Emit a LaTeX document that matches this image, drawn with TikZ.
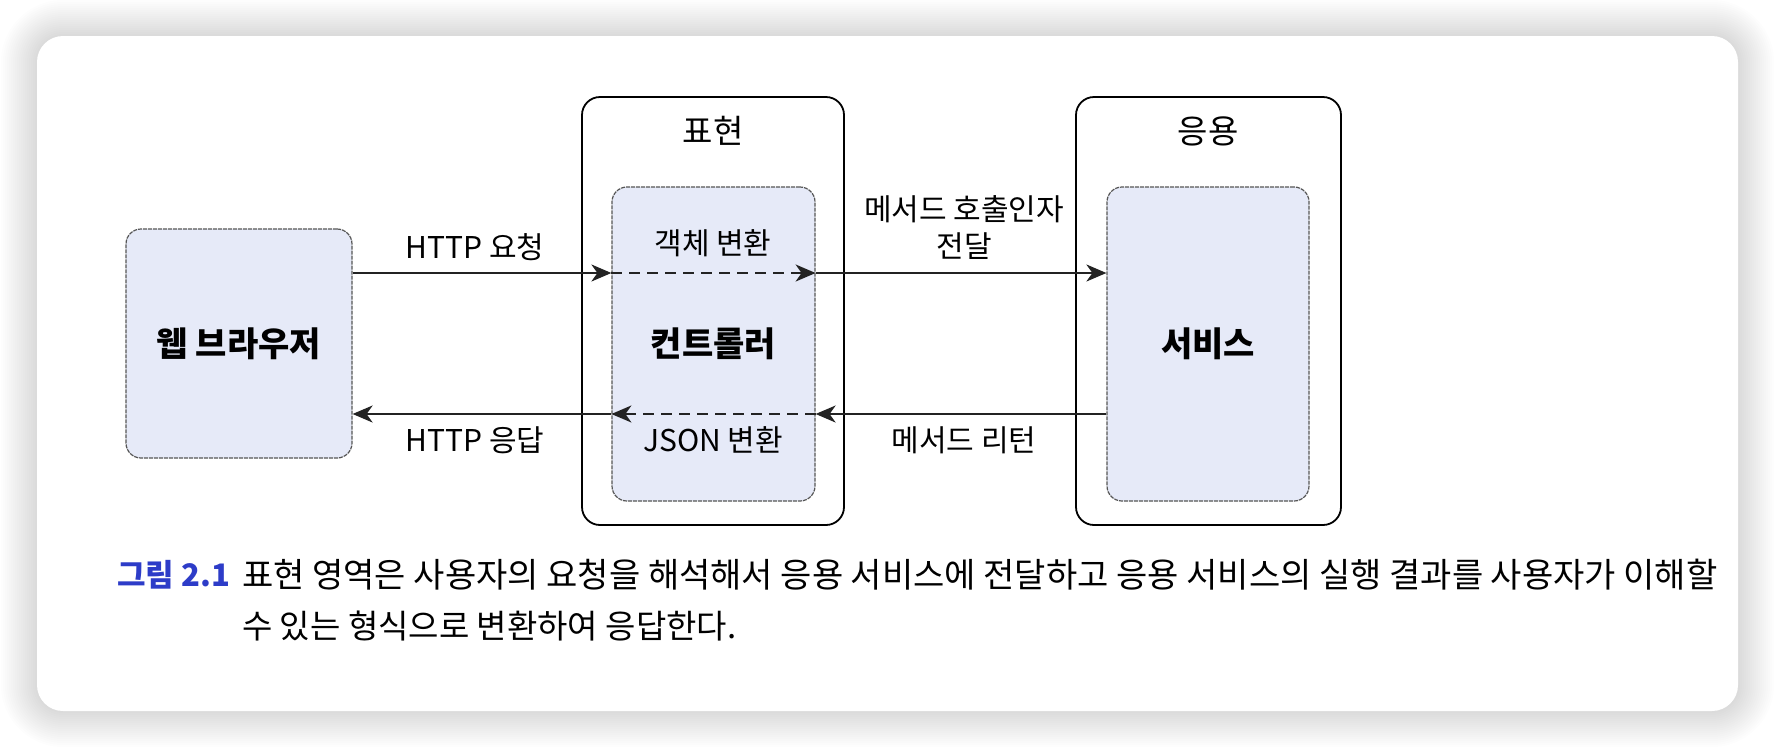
\documentclass[tikz,border=0pt]{standalone}
\usepackage{fontspec}
\setmainfont{Noto Sans CJK KR}
\usetikzlibrary{arrows.meta}
\definecolor{boxfill}{RGB}{230,234,248}
\definecolor{boxline}{RGB}{85,85,85}
\definecolor{linec}{RGB}{35,35,35}
\definecolor{capblue}{RGB}{45,60,200}
\begin{document}
\begin{tikzpicture}[x=1pt,y=-1pt,
  lbl/.style={font=\fontsize{30}{34}\selectfont, text=black, inner sep=0pt},
  ttl/.style={font=\fontsize{33}{36}\selectfont, text=black, inner sep=0pt},
  inbox/.style={draw=boxline, fill=boxfill, line width=1.2pt, dash pattern=on 4pt off 1pt,
    rounded corners=15pt, font=\fontsize{34}{38}\selectfont\bfseries, inner sep=0pt},
  layer/.style={draw=black, line width=1.8pt, rounded corners=18pt, inner sep=0pt},
  arr/.style={draw=linec, line width=2pt, -{Stealth[length=20pt,width=17pt,inset=6pt]}},
  darr/.style={arr, dash pattern=on 11pt off 7pt},
  captxt/.style={font=\fontsize{34}{38}\selectfont, anchor=west, inner sep=0pt}
]
\useasboundingbox (0,0) rectangle (1774,748);
\fill[white] (0,0) rectangle (1774,748);
% soft shadow
\foreach \i in {1,...,18} {
  \fill[black, opacity=0.0075, rounded corners=26pt+2*\i pt] (37-2*\i,36-2*\i) rectangle (1738+2*\i,711+2*\i);
}
\node[fill=white, rounded corners=26pt, minimum width=1701pt, minimum height=675pt, inner sep=0pt] (card) at (887.5,373.5) {};

% layers
\node[layer, minimum width=262pt, minimum height=428pt] (pres) at (713,311) {};
\node[layer, minimum width=265pt, minimum height=428pt] (app) at (1208.5,311) {};
\node[ttl] (presT) at (713,131) {표현};
\node[ttl] (appT) at (1208,131) {응용};

% inner boxes
\node[inbox, minimum width=226pt, minimum height=229pt] (browser) at (239,343.5) {웹 브라우저};
\node[inbox, minimum width=203pt, minimum height=314pt] (ctrl) at (713.5,344) {컨트롤러};
\node[inbox, minimum width=202pt, minimum height=314pt] (svc) at (1208,344) {서비스};

% arrows
\coordinate (ytop) at (0,273);
\coordinate (ybot) at (0,414);
\draw[arr] (browser.east |- ytop) -- (ctrl.west |- ytop);
\draw[darr] (ctrl.west |- ytop) -- (ctrl.east |- ytop);
\draw[arr] (ctrl.east |- ytop) -- (svc.west |- ytop);
\draw[arr] (svc.west |- ybot) -- (ctrl.east |- ybot);
\draw[darr] (ctrl.east |- ybot) -- (ctrl.west |- ybot);
\draw[arr] (ctrl.west |- ybot) -- (browser.east |- ybot);

% labels
\node[lbl] (l1) at (475,247) {HTTP 요청};
\node[lbl] (l2) at (713,243) {객체 변환};
\node[lbl, align=center, font=\fontsize{30}{37}\selectfont] (l3) at (964,228) {메서드 호출인자\\전달};
\node[lbl] (l4) at (475,440) {HTTP 응답};
\node[lbl] (l5) at (713,440) {JSON 변환};
\node[lbl] (l6) at (964,440) {메서드 리턴};

% caption
\node[captxt, text=capblue, font=\fontsize{31}{38}\selectfont\bfseries] (fig) at (117,575) {그림 2.1};
\node[captxt] (cap1) at (242,575) {표현 영역은 사용자의 요청을 해석해서 응용 서비스에 전달하고 응용 서비스의 실행 결과를 사용자가 이해할};
\node[captxt, font=\fontsize{33}{38}\selectfont] (cap2) at (242,626) {수 있는 형식으로 변환하여 응답한다.};
\end{tikzpicture}
\end{document}
